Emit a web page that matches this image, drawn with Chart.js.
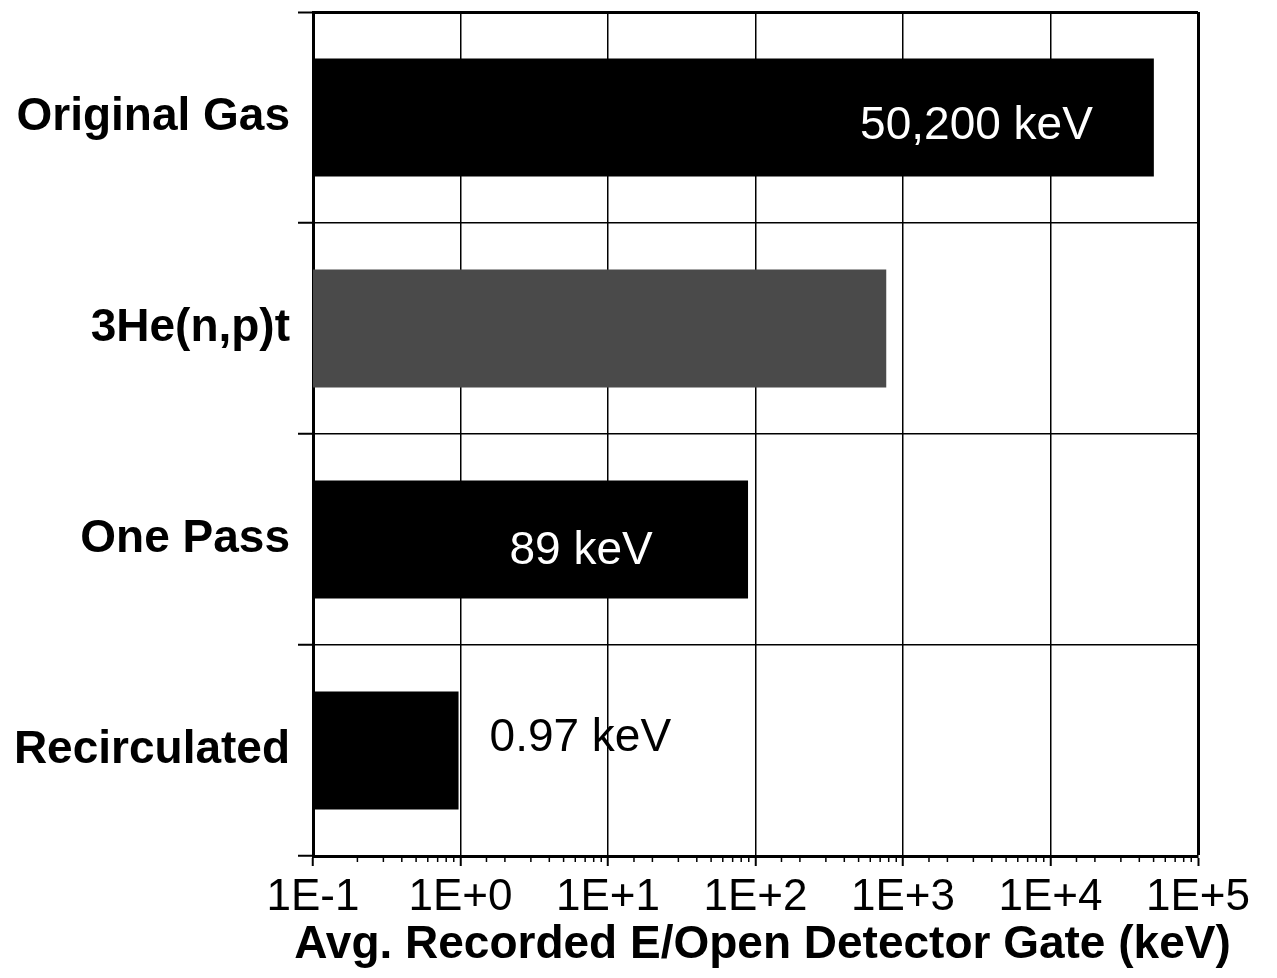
<!DOCTYPE html>
<html><head><meta charset="utf-8">
<script src="https://cdn.jsdelivr.net/npm/chart.js@4"></script>
<style>html,body{margin:0;padding:0;background:#fff}#wrap{width:1277px;height:978px}</style>
</head><body><div id="wrap"><canvas id="c" width="1277" height="978"></canvas></div>
<script>
const categories = ['Original Gas', '3He(n,p)t', 'One Pass', 'Recirculated'];
const values = [50200, 770, 89, 0.97];
const valueLabels = ['50,200 keV', '', '89 keV', '0.97 keV'];
const axisTitle = 'Avg. Recorded E/Open Detector Gate (keV)';
const xMin = 0.1, xMax = 100000;

const FONT = '"Liberation Sans", Arial, Helvetica, sans-serif';
const barColors = ['#000000', '#4a4a4a', '#000000', '#000000'];
const labelStyles = [
  {color: '#fff', align: 'right', dx: -61, dy: 9},
  null,
  {color: '#fff', align: 'center', dx: -167, dy: 12},
  {color: '#000', align: 'left', dx: 31, dy: -12}
];

function isDecade(v) {
  const l = Math.log10(v);
  return Math.abs(l - Math.round(l)) < 1e-9;
}

const valueLabelPlugin = {
  id: 'valueLabels',
  afterDatasetsDraw(chart) {
    const ctx = chart.ctx;
    const meta = chart.getDatasetMeta(0);
    ctx.save();
    ctx.font = '46px ' + FONT;
    ctx.textBaseline = 'middle';
    meta.data.forEach((bar, i) => {
      const st = labelStyles[i];
      if (!st || !valueLabels[i]) return;
      ctx.fillStyle = st.color;
      ctx.textAlign = st.align;
      ctx.fillText(valueLabels[i], bar.x + st.dx, bar.y + st.dy);
    });
    ctx.restore();
  }
};

const minorTickPlugin = {
  id: 'minorTicks',
  afterDraw(chart) {
    const xs = chart.scales.x;
    const ctx = chart.ctx;
    ctx.save();
    ctx.strokeStyle = '#000';
    ctx.lineWidth = 1.5;
    xs.ticks.forEach(t => {
      if (isDecade(t.value)) return;
      const px = xs.getPixelForValue(t.value);
      ctx.beginPath();
      ctx.moveTo(px, xs.top);
      ctx.lineTo(px, xs.top + 6);
      ctx.stroke();
    });
    // axis title (drawn unconstrained so it can extend past the plot width)
    const area = chart.chartArea;
    ctx.fillStyle = '#000';
    ctx.font = 'bold 46px ' + FONT;
    ctx.textAlign = 'center';
    ctx.textBaseline = 'middle';
    ctx.fillText(axisTitle, (area.left + area.right) / 2 + 7, xs.bottom - 33);
    ctx.restore();
  }
};

new Chart(document.getElementById('c'), {
  type: 'bar',
  data: {
    labels: categories,
    datasets: [{
      data: values,
      backgroundColor: barColors,
      borderWidth: 0,
      barPercentage: 0.56,
      categoryPercentage: 1.0
    }]
  },
  options: {
    indexAxis: 'y',
    responsive: false,
    devicePixelRatio: 1,
    animation: false,
    layout: {padding: {top: 12, right: 79, left: 0, bottom: 0}},
    plugins: {legend: {display: false}, tooltip: {enabled: false}},
    scales: {
      x: {
        type: 'logarithmic',
        min: xMin,
        max: xMax,
        afterFit(s) { s.height = 122; s.paddingLeft = 0; s.paddingRight = 0; },
        border: {display: true, color: '#000', width: 3},
        grid: {
          drawOnChartArea: true,
          color: c => (c.tick && isDecade(c.tick.value)) ? '#000' : 'rgba(0,0,0,0)',
          lineWidth: c => (c.tick && Math.abs(c.tick.value - xMax) < 1e-6) ? 3 : 1.5,
          tickLength: 10,
          tickColor: c => (c.tick && isDecade(c.tick.value)) ? '#000' : 'rgba(0,0,0,0)',
          tickWidth: 2
        },
        ticks: {
          autoSkip: false,
          maxRotation: 0,
          minRotation: 0,
          color: '#000',
          padding: 5,
          font: {family: FONT, size: 44},
          callback: (v) => {
            if (!isDecade(v)) return '';
            const e = Math.round(Math.log10(v));
            return '1E' + (e >= 0 ? '+' : '-') + Math.abs(e);
          }
        },
        title: {display: false}
      },
      y: {
        type: 'category',
        afterFit(s) { s.width = 313; s.paddingTop = 0; s.paddingBottom = 0; },
        border: {display: true, color: '#000', width: 3},
        grid: {
          offset: true,
          color: '#000',
          lineWidth: c => (c.index === 0) ? 3 : 1.5,
          tickLength: 15,
          tickColor: '#000',
          tickWidth: 2
        },
        ticks: {
          color: '#000',
          padding: 8,
          font: {family: FONT, size: 46, weight: 'bold'}
        }
      }
    }
  },
  plugins: [valueLabelPlugin, minorTickPlugin]
});
</script>
</body></html>
